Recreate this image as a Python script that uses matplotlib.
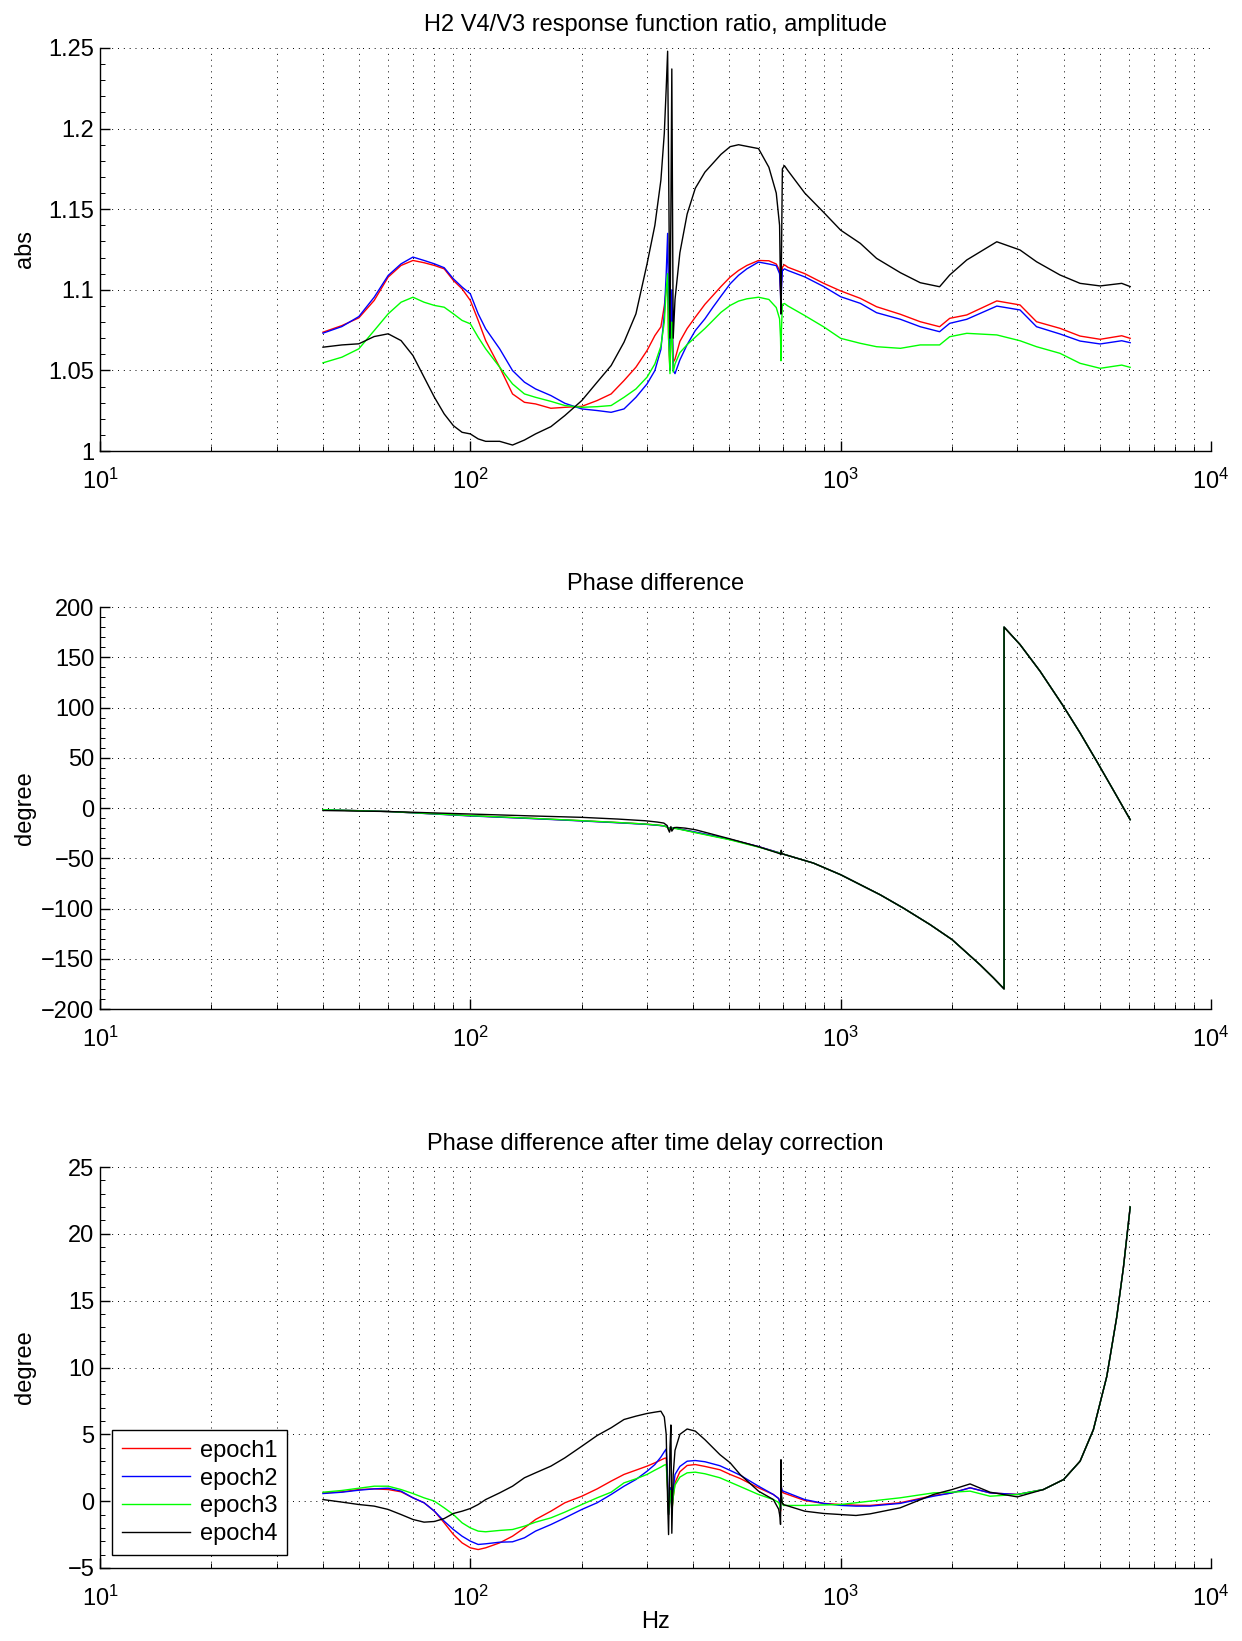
import matplotlib
matplotlib.use('Agg')
import matplotlib.pyplot as plt
from matplotlib.ticker import LogLocator, FuncFormatter, AutoMinorLocator, NullFormatter

plt.rcParams['font.family'] = ['Liberation Sans', 'DejaVu Sans']
plt.rcParams['mathtext.fontset'] = 'custom'
plt.rcParams['mathtext.rm'] = 'Liberation Sans'
plt.rcParams['mathtext.it'] = 'Liberation Sans:italic'
plt.rcParams['axes.unicode_minus'] = True

labels = ['epoch1', 'epoch2', 'epoch3', 'epoch4']
colors = ['#ff0000', '#0000ff', '#00ff00', '#000000']

# ---------------- amplitude ratio ----------------
freq_amp = [40, 45, 50, 55, 60, 65, 70, 75, 80, 85, 90, 95, 100, 105, 110, 120, 130, 140, 150, 165,
            180, 200, 220, 240, 260, 280, 300, 315, 327, 334, 338, 341, 343, 346, 348, 350, 353, 357, 368, 385,
            405, 430, 452, 475, 503, 530, 558, 600, 640, 670, 684, 688, 690, 692, 696, 705, 720, 800, 900, 1000,
            1130, 1250, 1450, 1640, 1850, 1970, 2190, 2640, 3050, 3380, 3910, 4430, 5020, 5740, 6050]

amp_epoch1 = [1.0737, 1.0778, 1.0826, 1.0934, 1.1079, 1.1151, 1.1182, 1.1168, 1.1151, 1.1130,
              1.1058, 1.1006, 1.0934, 1.0810, 1.0685, 1.0520, 1.0354, 1.0302, 1.0292, 1.0265,
              1.0271, 1.0277, 1.0313, 1.0354, 1.0437, 1.0520, 1.0623, 1.0716, 1.0770, 1.0900,
              1.1000, 1.1030, 1.0700, 1.0500, 1.0700, 1.0850, 1.0550, 1.0570, 1.0680, 1.0760,
              1.0830, 1.0910, 1.0965, 1.1020, 1.1079, 1.1120, 1.1151, 1.1182, 1.1180, 1.1160,
              1.1120, 1.1000, 1.0900, 1.1050, 1.1140, 1.1155, 1.1140, 1.1100, 1.1040, 1.0993,
              1.0947, 1.0895, 1.0848, 1.0802, 1.0771, 1.0823, 1.0844, 1.0931, 1.0906, 1.0802,
              1.0761, 1.0713, 1.0693, 1.0715, 1.0699]
amp_epoch2 = [1.0731, 1.0772, 1.0834, 1.0954, 1.1089, 1.1161, 1.1203, 1.1182, 1.1161, 1.1137,
              1.1068, 1.1017, 1.0975, 1.0851, 1.0758, 1.0634, 1.0499, 1.0427, 1.0385, 1.0344,
              1.0296, 1.0261, 1.0251, 1.0240, 1.0261, 1.0333, 1.0416, 1.0499, 1.0630, 1.0850,
              1.1100, 1.1350, 1.0900, 1.0500, 1.0800, 1.1000, 1.0500, 1.0480, 1.0565, 1.0660,
              1.0747, 1.0820, 1.0892, 1.0960, 1.1037, 1.1090, 1.1130, 1.1172, 1.1160, 1.1150,
              1.1100, 1.0980, 1.0850, 1.1000, 1.1120, 1.1130, 1.1120, 1.1080, 1.1020, 1.0957,
              1.0916, 1.0858, 1.0817, 1.0771, 1.0740, 1.0792, 1.0817, 1.0899, 1.0875, 1.0771,
              1.0726, 1.0682, 1.0664, 1.0684, 1.0672]
amp_epoch3 = [1.0547, 1.0582, 1.0634, 1.0747, 1.0851, 1.0923, 1.0954, 1.0923, 1.0903, 1.0892,
              1.0851, 1.0810, 1.0789, 1.0706, 1.0634, 1.0520, 1.0416, 1.0354, 1.0333, 1.0308,
              1.0282, 1.0271, 1.0275, 1.0282, 1.0333, 1.0385, 1.0458, 1.0540, 1.0650, 1.0800,
              1.1000, 1.1100, 1.0700, 1.0480, 1.0700, 1.0800, 1.0490, 1.0540, 1.0610, 1.0660,
              1.0706, 1.0760, 1.0810, 1.0860, 1.0903, 1.0930, 1.0944, 1.0954, 1.0940, 1.0890,
              1.0820, 1.0700, 1.0560, 1.0750, 1.0910, 1.0915, 1.0900, 1.0840, 1.0770, 1.0699,
              1.0668, 1.0647, 1.0637, 1.0658, 1.0658, 1.0709, 1.0730, 1.0720, 1.0684, 1.0647,
              1.0606, 1.0544, 1.0513, 1.0533, 1.0519]
amp_epoch4 = [1.0644, 1.0658, 1.0665, 1.0710, 1.0727, 1.0685, 1.0592, 1.0458, 1.0333, 1.0230,
              1.0157, 1.0116, 1.0106, 1.0075, 1.0060, 1.0060, 1.0037, 1.0068, 1.0106, 1.0151,
              1.0220, 1.0313, 1.0427, 1.0530, 1.0675, 1.0851, 1.1160, 1.1400, 1.1680, 1.1970,
              1.2250, 1.2480, 1.1800, 1.0700, 1.1500, 1.2370, 1.0700, 1.0940, 1.1230, 1.1470,
              1.1630, 1.1730, 1.1785, 1.1840, 1.1888, 1.1900, 1.1890, 1.1876, 1.1760, 1.1600,
              1.1400, 1.1000, 1.0850, 1.1200, 1.1750, 1.1770, 1.1740, 1.1600, 1.1480, 1.1370,
              1.1288, 1.1195, 1.1106, 1.1044, 1.1019, 1.1092, 1.1185, 1.1298, 1.1247, 1.1174,
              1.1092, 1.1040, 1.1024, 1.1040, 1.1020]

# ---------------- phase difference ----------------
freq_ph = [40, 60, 100, 150, 200, 250, 297, 320, 333, 340, 343, 345, 348, 350, 355, 361, 380, 406, 500, 600,
           686, 689, 691, 694, 844, 1000, 1278, 1477, 1743, 2000, 2379, 2585, 2762,
           2762, 3051, 3455, 3995, 4431, 4914, 5452, 6050]
ph_epoch1 = [-1.7, -3.5, -7.7, -10.5, -12.7, -14.5, -16.0, -17.0, -17.7, -19.0,
             -21.0, -20.0, -21.0, -20.0, -20.0, -20.3, -22.0, -24.3, -31.0, -38.5,
             -44.8, -45.5, -43.0, -45.5, -54.8, -66.4, -86.3, -99.6, -116.0, -131.0, -156.0, -169.0, -180.0,
             180.0, 162.6, 136.1, 101.2, 74.7, 46.5, 17.6, -11.6]
ph_epoch2 = [-1.7, -3.5, -7.9, -10.7, -12.9, -14.7, -16.2, -17.2, -17.9, -18.5,
             -21.0, -20.0, -21.0, -20.0, -20.0, -20.3, -22.0, -24.0, -31.0, -38.4,
             -44.8, -45.5, -43.0, -45.5, -54.8, -66.4, -86.3, -99.6, -116.0, -131.0, -156.0, -169.0, -180.0,
             180.0, 162.6, 136.1, 101.2, 74.7, 46.5, 17.6, -11.6]
ph_epoch3 = [-1.7, -3.5, -7.6, -10.4, -12.6, -14.4, -16.0, -17.0, -17.7, -19.2,
             -21.0, -20.0, -21.0, -20.0, -20.3, -20.6, -22.3, -24.6, -31.5, -38.9,
             -45.0, -45.5, -43.0, -45.5, -54.8, -66.4, -86.3, -99.6, -116.0, -131.0, -156.0, -169.0, -180.0,
             180.0, 162.6, 136.1, 101.2, 74.7, 46.5, 17.6, -11.6]
ph_epoch4 = [-2.5, -3.5, -6.0, -8.0, -9.3, -11.0, -12.7, -14.0, -15.0, -17.5,
             -22.0, -24.0, -18.5, -23.0, -19.5, -19.3, -20.0, -21.7, -30.5, -38.5,
             -45.5, -46.5, -42.0, -45.5, -54.8, -66.4, -86.3, -99.6, -116.0, -131.0, -156.0, -169.0, -180.0,
             180.0, 162.6, 136.1, 101.2, 74.7, 46.5, 17.6, -11.6]

# ---------------- phase after delay correction ----------------
freq_corr = [40, 45, 50, 55, 60, 65, 70, 75, 80, 85, 90, 95, 100, 105, 110, 120, 130, 140, 150, 165,
             180, 200, 220, 240, 260, 280, 300, 315, 327, 334, 338, 341, 343, 346, 348, 350, 353, 357, 368, 385,
             405, 430, 472, 503, 535, 600, 658, 680, 686, 688, 690, 692, 695, 700, 800, 900, 1000, 1100, 1200, 1447,
             1780, 2000, 2236, 2532, 3000, 3527, 4000, 4431, 4813, 5231, 5567, 5802, 6050]
corr_epoch1 = [0.62, 0.70, 0.87, 0.92, 0.87, 0.70, 0.25, -0.12, -0.75, -1.62,
               -2.49, -3.12, -3.49, -3.62, -3.49, -3.12, -2.62, -2.00, -1.37, -0.75,
               -0.12, 0.37, 0.92, 1.50, 2.00, 2.32, 2.62, 2.87, 3.08, 3.20,
               3.24, 1.00, -1.00, 0.50, 1.00, -0.80, 0.30, 1.37, 2.20, 2.67,
               2.74, 2.60, 2.35, 2.00, 1.70, 1.00, 0.50, 0.20, -0.20, -0.75,
               1.40, 0.90, 0.70, 0.62, 0.05, -0.17, -0.25, -0.30, -0.32, -0.12,
               0.42, 0.62, 1.00, 0.62, 0.50, 0.87, 1.62, 2.99, 5.35, 9.33,
               13.8, 17.5, 22.0]
corr_epoch2 = [0.57, 0.67, 0.82, 0.92, 0.97, 0.75, 0.25, -0.12, -0.75, -1.50,
               -2.12, -2.62, -2.99, -3.24, -3.19, -3.07, -3.04, -2.74, -2.24, -1.75,
               -1.25, -0.62, -0.12, 0.50, 1.12, 1.62, 2.24, 2.74, 3.30, 3.70,
               3.90, 1.50, -1.00, 0.50, 1.00, -0.80, 0.80, 2.00, 2.60, 2.99,
               3.04, 2.95, 2.65, 2.30, 1.95, 1.12, 0.50, 0.20, -0.10, -0.60,
               1.30, 1.00, 0.80, 0.75, 0.12, -0.17, -0.32, -0.37, -0.37, -0.17,
               0.37, 0.62, 1.00, 0.62, 0.50, 0.87, 1.62, 2.99, 5.35, 9.33,
               13.8, 17.5, 22.0]
corr_epoch3 = [0.67, 0.80, 0.97, 1.12, 1.12, 0.87, 0.57, 0.25, 0.00, -0.50,
               -1.00, -1.62, -2.00, -2.24, -2.29, -2.19, -2.12, -1.87, -1.57, -1.25,
               -0.82, -0.25, 0.25, 0.67, 1.37, 1.67, 2.00, 2.32, 2.55, 2.70,
               2.75, 0.80, -1.00, 0.30, 0.80, -0.80, 0.30, 1.20, 1.80, 2.12,
               2.17, 2.05, 1.75, 1.42, 1.10, 0.50, 0.12, -0.10, -0.40, -0.62,
               1.20, 0.20, -0.10, -0.32, -0.32, -0.28, -0.25, -0.12, 0.00, 0.25,
               0.62, 0.67, 0.75, 0.37, 0.50, 0.87, 1.62, 2.99, 5.35, 9.33,
               13.8, 17.5, 22.0]
corr_epoch4 = [0.12, -0.07, -0.25, -0.37, -0.62, -1.00, -1.37, -1.57, -1.52, -1.30,
               -0.92, -0.75, -0.55, -0.25, 0.12, 0.62, 1.12, 1.75, 2.12, 2.62,
               3.24, 4.11, 4.91, 5.49, 6.11, 6.36, 6.56, 6.66, 6.73, 6.30,
               5.00, 0.00, -2.50, 4.00, 5.70, -2.40, 2.00, 3.80, 5.00, 5.40,
               5.24, 4.60, 3.48, 2.87, 2.00, 0.75, 0.12, -0.60, -1.20, -1.74,
               3.10, 0.50, -0.10, -0.25, -0.75, -0.92, -1.00, -1.07, -0.95, -0.50,
               0.50, 0.87, 1.29, 0.67, 0.32, 0.87, 1.62, 2.99, 5.35, 9.33,
               13.8, 17.5, 22.0]

amp_series = [amp_epoch1, amp_epoch2, amp_epoch3, amp_epoch4]
ph_series = [ph_epoch1, ph_epoch2, ph_epoch3, ph_epoch4]
corr_series = [corr_epoch1, corr_epoch2, corr_epoch3, corr_epoch4]

amp_yticks = [1, 1.05, 1.1, 1.15, 1.2, 1.25]
ph_yticks = [-200, -150, -100, -50, 0, 50, 100, 150, 200]
corr_yticks = [-5, 0, 5, 10, 15, 20, 25]

W, H = 1242, 1641
fig = plt.figure(figsize=(W / 100, H / 100), dpi=100)


def make_axes(top_px, bottom_px):
    left_px, right_px = 100, 1211
    return fig.add_axes([left_px / W, 1 - bottom_px / H, (right_px - left_px) / W,
                         (bottom_px - top_px) / H])


FS = 17
dots = (0, (1, 5))


def style(ax, yticks, title, ylabel):
    ax.set_xscale('log')
    ax.set_xlim(10, 1e4)
    ax.set_ylim(yticks[0], yticks[-1])
    ax.set_yticks(yticks)
    ax.yaxis.set_major_formatter(FuncFormatter(lambda v, p: ('%g' % v).replace('-', '\u2212')))
    ax.yaxis.set_minor_locator(AutoMinorLocator(5))
    ax.xaxis.set_major_locator(LogLocator(base=10, numticks=10))
    ax.xaxis.set_minor_locator(LogLocator(base=10, subs=range(2, 10), numticks=20))
    ax.xaxis.set_minor_formatter(NullFormatter())
    for s in ['top', 'right']:
        ax.spines[s].set_visible(False)
    for s in ['left', 'bottom']:
        ax.spines[s].set_linewidth(1.0)
    ax.tick_params(which='major', direction='in', length=7, width=1.0, labelsize=FS)
    ax.tick_params(which='minor', direction='in', length=3.5, width=0.7)
    ax.tick_params(axis='x', which='major', pad=13)
    ax.tick_params(axis='y', which='major', pad=4)
    ax.grid(True, which='major', axis='both', linestyle=dots, color='k', linewidth=0.7)
    ax.grid(True, which='minor', axis='x', linestyle=dots, color='k', linewidth=0.7)
    ax.set_axisbelow(True)
    ax.set_title(title, fontsize=FS, pad=12)
    ax.set_ylabel(ylabel, fontsize=FS)
    ax.yaxis.set_label_coords(-0.058, 0.5)


ax1 = make_axes(48, 451)
for vals, c, lab in zip(amp_series, colors, labels):
    ax1.plot(freq_amp, vals, color=c, lw=1.0, label=lab)
style(ax1, amp_yticks, 'H2 V4/V3 response function ratio, amplitude', 'abs')

ax2 = make_axes(607, 1009)
for vals, c, lab in zip(ph_series, colors, labels):
    ax2.plot(freq_ph, vals, color=c, lw=1.0, label=lab)
style(ax2, ph_yticks, 'Phase difference', 'degree')

ax3 = make_axes(1167, 1568)
for vals, c, lab in zip(corr_series, colors, labels):
    ax3.plot(freq_corr, vals, color=c, lw=1.0, label=lab)
style(ax3, corr_yticks, 'Phase difference after time delay correction', 'degree')
ax3.set_xlabel('Hz', fontsize=FS, labelpad=0)

leg = ax3.legend(loc='lower left', bbox_to_anchor=(0.011, 0.033), borderaxespad=0,
                 fontsize=FS, fancybox=False, framealpha=1, edgecolor='k',
                 handlelength=2.9, labelspacing=0.25, borderpad=0.4, handletextpad=0.4)
leg.get_frame().set_linewidth(1.0)

fig.savefig('out.png', dpi=100)
